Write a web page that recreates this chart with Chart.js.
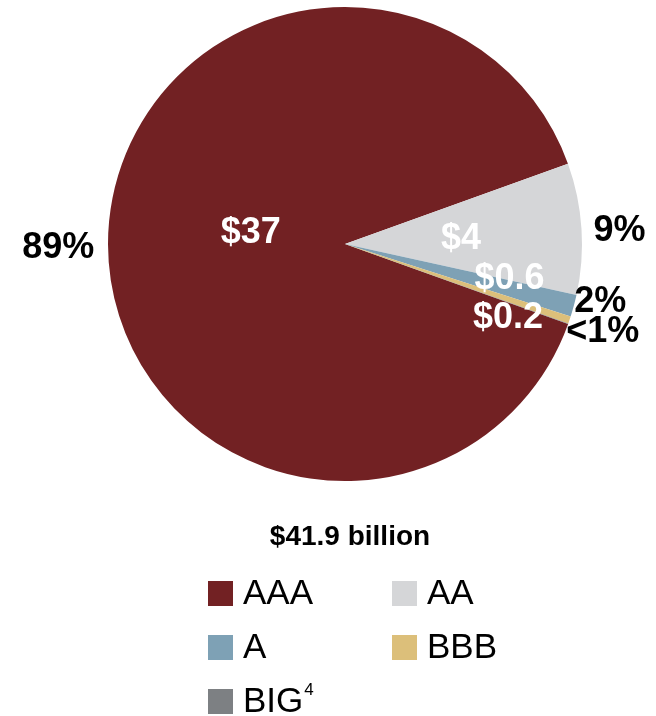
<!DOCTYPE html>
<html lang="en">
<head>
<meta charset="UTF-8">
<title>Ratings breakdown</title>
<script src="https://cdn.jsdelivr.net/npm/chart.js"></script>
<style>
  html, body { margin: 0; padding: 0; background: #ffffff; }
  canvas { display: block; }
</style>
</head>
<body>
<canvas id="ratingsChart" width="656" height="716"></canvas>
<script>
  // Data ($ billions)
  const ratings = ['AAA', 'AA', 'A', 'BBB', 'BIG'];
  const amounts = [37.3, 3.75, 0.63, 0.21, 0.01];
  const amountLabels = ['$37', '$4', '$0.6', '$0.2', ''];
  const shareLabels = ['89%', '9%', '2%', '<1%', ''];
  const totalLabel = '$41.9 billion';
  const colors = ['#722123', '#d5d6d8', '#7ea1b5', '#dcbf7a', '#7d8083'];

  // label placement relative to each slice (radius fraction, angle nudge in degrees)
  const labelPlacement = [
    { rIn: 0.40, aIn: 6.7, rOut: 1.21, aOut: -0.8 },
    { rIn: 0.49, aIn: 1.5, rOut: 1.16, aOut: 1.0 },
    { rIn: 0.71, aIn: -2.9, rOut: 1.105, aOut: -2.2 },
    { rIn: 0.755, aIn: 5.6, rOut: 1.15, aOut: 0.2 },
    null
  ];

  const FONT = '"Liberation Sans", Arial, Helvetica, sans-serif';

  const sliceLabels = {
    id: 'sliceLabels',
    afterDatasetsDraw(chart) {
      const ctx = chart.ctx;
      const arcs = chart.getDatasetMeta(0).data;
      ctx.save();
      ctx.textAlign = 'center';
      ctx.textBaseline = 'middle';
      ctx.font = 'bold 36px ' + FONT;
      arcs.forEach((arc, i) => {
        const p = labelPlacement[i];
        if (!p) return;
        const { x, y, startAngle, endAngle, outerRadius } = arc.getProps(['x', 'y', 'startAngle', 'endAngle', 'outerRadius'], true);
        const mid = (startAngle + endAngle) / 2;
        const aIn = mid + p.aIn * Math.PI / 180;
        const aOut = mid + p.aOut * Math.PI / 180;
        ctx.fillStyle = '#ffffff';
        ctx.fillText(amountLabels[i], x + Math.cos(aIn) * outerRadius * p.rIn, y + Math.sin(aIn) * outerRadius * p.rIn);
        ctx.fillStyle = '#000000';
        ctx.fillText(shareLabels[i], x + Math.cos(aOut) * outerRadius * p.rOut, y + Math.sin(aOut) * outerRadius * p.rOut);
      });
      ctx.restore();
    }
  };

  const totalAndLegend = {
    id: 'totalAndLegend',
    afterDraw(chart) {
      const ctx = chart.ctx;
      ctx.save();
      ctx.fillStyle = '#000000';
      ctx.textAlign = 'center';
      ctx.textBaseline = 'middle';
      ctx.font = 'bold 28px ' + FONT;
      ctx.fillText(totalLabel, 350, 537);

      const cols = [208, 392];
      const rowTop = 581, rowStep = 54, box = 25;
      ctx.textAlign = 'left';
      ratings.forEach((name, i) => {
        const bx = cols[i % 2];
        const by = rowTop + Math.floor(i / 2) * rowStep;
        ctx.fillStyle = colors[i];
        ctx.fillRect(bx, by, box, box);
        ctx.fillStyle = '#000000';
        ctx.font = '35px ' + FONT;
        ctx.fillText(name, bx + 35, by + box / 2 + 1);
        if (name === 'BIG') {
          const w = ctx.measureText(name).width;
          ctx.font = '17px ' + FONT;
          ctx.fillText('4', bx + 35 + w + 1, by + 1);
        }
      });
      ctx.restore();
    }
  };

  new Chart(document.getElementById('ratingsChart'), {
    type: 'pie',
    data: {
      labels: ratings,
      datasets: [{
        data: amounts,
        backgroundColor: colors,
        borderWidth: 0
      }]
    },
    options: {
      responsive: false,
      animation: false,
      rotation: 109.7,
      layout: { padding: { left: 108, right: 74, top: 7, bottom: 235 } },
      plugins: {
        legend: { display: false },
        tooltip: { enabled: false }
      }
    },
    plugins: [sliceLabels, totalAndLegend]
  });
</script>
</body>
</html>
